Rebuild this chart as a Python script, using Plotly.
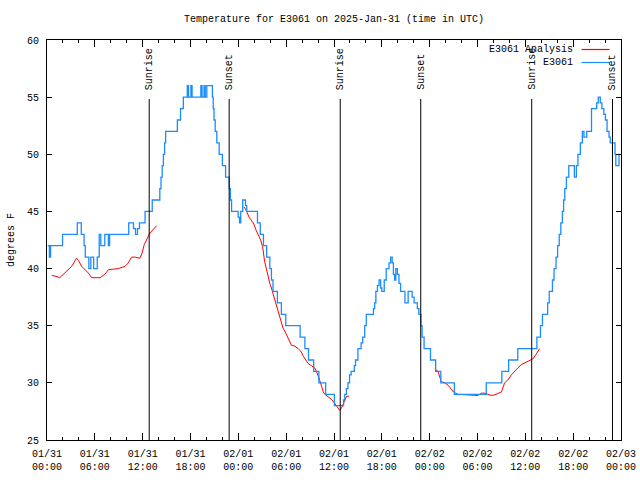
import plotly.graph_objects as go
from datetime import datetime, timedelta

BASE = datetime(2025, 1, 31, 0, 0)

# ---------------- data ----------------
# Observed station temperature (hours since 01/31 00:00 UTC, deg F); value holds until next time
obs_hours = [0.1, 0.3, 0.45, 1.95, 3.8, 4.3, 4.65, 4.8, 5.25, 5.5, 5.85, 6.3, 6.55, 6.75, 7.25, 7.7, 7.85,
             10.25, 10.85, 11.1, 11.35, 11.6, 12.3, 13.2, 14.15, 14.3, 14.45, 14.6, 14.75, 14.88,
             16.35, 16.75, 17.1, 17.6, 17.75, 18.05, 18.2, 19.3, 19.45, 19.7, 19.85, 20.05, 20.75, 20.85,
             20.95, 21.1, 21.3, 21.6, 22.0, 22.4, 22.85, 23.0, 23.15, 23.98, 24.15, 24.3, 24.55, 24.9, 25.05,
             26.4, 26.75, 27.15, 27.55, 27.95, 28.15, 28.35, 28.9, 29.4, 29.95, 31.75, 32.35, 32.8, 33.45,
             34.1, 34.95, 36.05, 37.2, 37.35, 37.55, 37.75, 37.95, 38.15, 38.55, 38.7, 39.0, 39.4, 39.6,
             39.85, 40.05, 40.95, 41.1, 41.25, 41.45, 41.65, 41.85, 42.0, 42.3, 42.55, 42.9, 43.1, 43.3,
             43.45, 43.6, 43.75, 43.95, 44.15, 44.35, 44.9, 45.3, 45.8, 46.05, 46.45, 46.65, 46.9, 47.05,
             47.3, 48.1, 48.75, 49.4, 51.1, 55.1, 57.05, 57.9, 59.05, 61.45, 61.9, 62.15, 62.8, 63.0, 63.4,
             63.6, 63.85, 64.05, 64.25, 64.45, 64.65, 64.8, 64.95, 65.15, 65.45, 66.15, 66.4, 66.6, 66.9,
             67.15, 67.35, 67.7, 68.3, 68.95, 69.15, 69.4, 69.6, 69.85, 70.05, 70.25, 70.5, 70.65, 71.25,
             71.35, 71.75, 72.0]
obs_temps = [42, 41, 42, 43, 44, 43, 42, 41, 40, 41, 40, 41, 43, 42, 43, 42, 43,
             44, 43.5, 43, 43.5, 44, 45, 46, 47, 48, 49, 50, 51, 52,
             53, 54, 55, 56, 55, 56, 55, 56, 55, 56, 55, 56, 55, 54,
             53, 52, 51, 50, 49, 48, 47, 46, 45, 44.5, 44, 45, 46, 45.5, 45,
             44, 43, 42, 41, 40, 39, 38, 37, 36, 35, 34, 33, 32, 31,
             30, 29, 28, 28.5, 29, 29.5, 30, 30.7, 31, 31.5, 32, 33, 33.5, 34,
             35, 36, 36.5, 37, 38, 38.5, 39, 38.3, 38, 39, 40, 40.5, 41, 40.5,
             39.5, 39, 40, 39.5, 38.7, 38, 37, 38, 37.5, 37, 36.5, 36, 35, 34,
             33, 32, 31, 30, 29, 30, 31, 32, 33, 34, 35, 36, 37, 38, 39,
             40, 41, 42, 43, 44, 45, 46, 47, 48, 49, 48, 49, 50, 51,
             52, 51.5, 52, 54, 54.5, 55, 54.5, 54, 53.5, 53, 52, 51.5, 51, 50,
             49, 50, 50]

# Analysis temperature, three separate runs
ana1_hours = [0.6, 1.0, 1.6, 2.05, 2.65, 3.1, 3.7, 3.95, 4.35, 4.75, 5.2, 5.6, 6.65, 7.25, 7.7, 8.3,
              8.95, 9.8, 10.2, 10.6, 11.05, 11.65, 11.9, 12.2, 12.5, 12.9, 13.3, 13.75]
ana1_temps = [39.4, 39.35, 39.2, 39.5, 39.9, 40.2, 40.9, 40.7, 40.2, 39.9, 39.6, 39.2, 39.2, 39.5, 39.9,
              39.95, 40.0, 40.2, 40.5, 41.0, 41.0, 40.9, 41.3, 42.1, 42.6, 43.1, 43.4, 43.75]
ana2_hours = [24.7, 24.9, 25.35, 25.65, 25.95, 26.2, 26.5, 26.8, 27.05, 27.2, 27.3, 27.55, 27.75, 27.95,
              28.15, 28.35, 28.55, 28.8, 29.0, 29.2, 29.4, 29.6, 29.85, 30.05, 30.25, 30.45, 30.65, 31.1,
              31.5, 31.9, 32.1, 32.55, 32.75, 33.15, 33.6, 33.8, 34.0, 34.2, 34.45, 34.65, 34.85, 35.25,
              35.7, 36.1, 36.4, 36.7, 36.95, 37.15, 37.35, 37.55, 37.9]
ana2_temps = [45.4, 45.2, 44.5, 44.25, 43.9, 43.4, 42.9, 42.5, 41.9, 41.2, 40.6, 39.9, 39.15, 38.7,
              38.3, 37.8, 37.25, 36.7, 36.2, 35.8, 35.35, 34.8, 34.5, 34.2, 33.9, 33.6, 33.3, 33.2,
              33.0, 32.7, 32.4, 31.9, 31.7, 31.5, 31.3, 31.0, 30.7, 30.25, 29.7, 29.2, 29.0, 28.8,
              28.55, 28.2, 27.9, 27.6, 27.8, 28.2, 28.5, 28.8, 28.85]
ana3_hours = [48.65, 49.05, 49.45, 49.9, 50.3, 50.7, 51.0, 51.5, 52.5, 53.2, 54.05, 54.5, 54.9, 55.3,
              55.7, 56.15, 56.55, 57.0, 57.4, 57.8, 58.25, 58.65, 59.05, 59.5, 60.1, 60.5, 60.95, 61.35, 61.8]
ana3_temps = [31.2, 31.0, 30.1, 30.0, 29.8, 29.5, 29.2, 29.0, 28.95, 28.9, 28.9, 29.1, 29.1, 29.0,
              28.9, 28.95, 29.05, 29.2, 30.0, 30.25, 30.7, 31.05, 31.3, 31.6, 31.8, 31.95, 32.1, 32.5, 33.0]

sun_labels = ["Sunrise", "Sunset", "Sunrise", "Sunset", "Sunrise", "Sunset"]
sun_hours = [12.82, 22.85, 36.78, 46.88, 60.80, 70.93]

tick_hours = [0, 6, 12, 18, 24, 30, 36, 42, 48, 54, 60, 66, 72]
tick_labels = ["01/31<br>00:00", "01/31<br>06:00", "01/31<br>12:00", "01/31<br>18:00",
               "02/01<br>00:00", "02/01<br>06:00", "02/01<br>12:00", "02/01<br>18:00",
               "02/02<br>00:00", "02/02<br>06:00", "02/02<br>12:00", "02/02<br>18:00",
               "02/03<br>00:00"]

series_names = ["E3061 Analysis", "E3061"]
series_colors = ["#ff0000", "#1a8cff"]


def to_time(h):
    return BASE + timedelta(hours=h)


FONT = "Liberation Mono"

# ---------------- figure ----------------
ana_x, ana_y = [], []
for hs, ts in ((ana1_hours, ana1_temps), (ana2_hours, ana2_temps), (ana3_hours, ana3_temps)):
    ana_x += [to_time(h) for h in hs] + [None]
    ana_y += list(ts) + [None]

fig = go.Figure()
fig.add_trace(go.Scatter(x=ana_x, y=ana_y, mode="lines", name=series_names[0],
                         line=dict(color=series_colors[0], width=1), connectgaps=False,
                         showlegend=False))
fig.add_trace(go.Scatter(x=[to_time(h) for h in obs_hours], y=obs_temps, mode="lines",
                         name=series_names[1], line=dict(color=series_colors[1], width=1.3, shape="hv"),
                         showlegend=False))

L, R, T, B = 47, 621.5, 40, 440
W, H = R - L, B - T


def px(xp):
    return (xp - L) / W


def py(yp):
    return (B - yp) / H


for lab, h in zip(sun_labels, sun_hours):
    t = to_time(h)
    fig.add_shape(type="line", xref="x", yref="paper", x0=t, x1=t, y0=0, y1=py(99),
                  line=dict(color="black", width=1))
    fig.add_annotation(x=t, y=py(92), xref="x", yref="paper", text=lab, showarrow=False,
                       textangle=-90, xanchor="center", yanchor="bottom",
                       font=dict(family=FONT, size=10, color="black"))

# legend (gnuplot style: text then line sample)
for i, (nm, col) in enumerate(zip(series_names, series_colors)):
    yy = 49.5 + 13 * i
    fig.add_annotation(x=px(575), y=py(yy), xref="paper", yref="paper", text=nm, showarrow=False,
                       xanchor="right", yanchor="middle", font=dict(family=FONT, size=10, color="black"))
    fig.add_shape(type="line", xref="paper", yref="paper", x0=px(582), x1=px(610), y0=py(yy), y1=py(yy),
                  line=dict(color=col, width=1.2))

fig.add_annotation(x=px(334), y=py(19), xref="paper", yref="paper",
                   text="Temperature for E3061 on 2025-Jan-31 (time in UTC)", showarrow=False,
                   xanchor="center", yanchor="middle", font=dict(family=FONT, size=10, color="black"))
fig.add_annotation(x=px(11), y=py(240), xref="paper", yref="paper", text="degrees F", showarrow=False,
                   textangle=-90, xanchor="center", yanchor="middle",
                   font=dict(family=FONT, size=10, color="black"))

fig.update_layout(
    width=640, height=480, margin=dict(l=L, r=640 - R, t=T, b=480 - B, autoexpand=False),
    paper_bgcolor="white", plot_bgcolor="white", showlegend=False,
    font=dict(family=FONT, size=10, color="black"),
    xaxis=dict(range=[to_time(0), to_time(72)], tickmode="array", automargin=False,
               tickvals=[to_time(h) for h in tick_hours], ticktext=tick_labels,
               ticks="inside", ticklen=7, tickcolor="black", showgrid=False, zeroline=False,
               showline=True, linecolor="black", linewidth=1, mirror="ticks",
               minor=dict(ticks="inside", ticklen=3, dtick=2 * 3600 * 1000, tick0=to_time(0),
                          tickcolor="black", showgrid=False),
               tickfont=dict(family=FONT, size=10), ticklabelstandoff=4),
    yaxis=dict(range=[25, 60], tick0=25, dtick=5, ticks="inside", ticklen=5, tickcolor="black",
               automargin=False,
               showgrid=False, zeroline=False, showline=True, linecolor="black", linewidth=1,
               mirror="ticks", tickfont=dict(family=FONT, size=10), ticklabelstandoff=5),
)

fig.write_html("out.html")
